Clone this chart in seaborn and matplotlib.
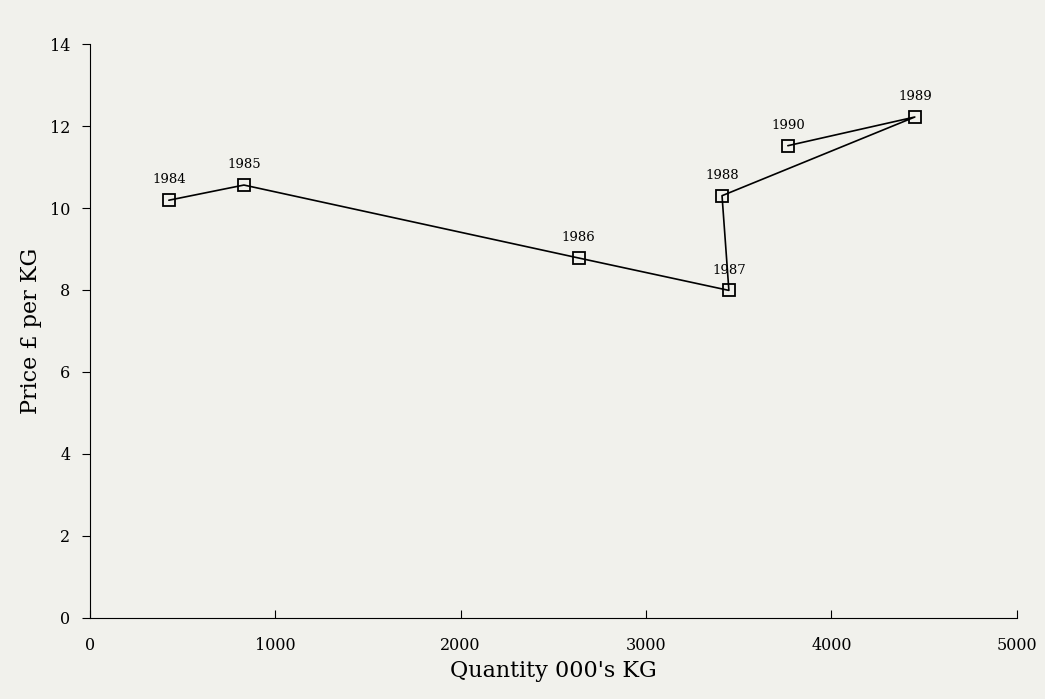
import matplotlib
matplotlib.use("Agg")
import matplotlib.pyplot as plt
import pandas as pd
import seaborn as sns

# values
years = ['1984', '1985', '1986', '1987', '1988', '1989', '1990']
quantity = [426, 831, 2637, 3447, 3410, 4450, 3765]
price = [10.19, 10.56, 8.78, 7.99, 10.30, 12.22, 11.52]

df = pd.DataFrame({'year': years, 'quantity': quantity, 'price': price})

sns.set_style("ticks")
plt.rcParams['font.family'] = ['DejaVu Serif']
plt.rcParams['text.color'] = 'black'
plt.rcParams['axes.labelcolor'] = 'black'
plt.rcParams['xtick.color'] = 'black'
plt.rcParams['ytick.color'] = 'black'
plt.rcParams['axes.edgecolor'] = 'black'

fig = plt.figure(figsize=(10.45, 6.99), dpi=100, facecolor='#f1f1ec')
ax = fig.add_axes([0.086, 0.116, 0.887, 0.821])
ax.set_facecolor('#f1f1ec')

sns.lineplot(x='quantity', y='price', data=df, sort=False, ax=ax,
             color='black', linewidth=1.2, marker='s', markersize=9,
             markerfacecolor='none', markeredgecolor='black', markeredgewidth=1.3)

for _, r in df.iterrows():
    ax.annotate(r['year'], (r['quantity'], r['price']), xytext=(0, 10),
                textcoords='offset points', ha='center', va='bottom',
                fontsize=9.5)

ax.set_xlim(0, 5000)
ax.set_ylim(0, 14)
ax.set_xticks([0, 1000, 2000, 3000, 4000, 5000])
ax.set_yticks([0, 2, 4, 6, 8, 10, 12, 14])
ax.tick_params(axis='x', direction='in', length=6, labelsize=11.5, pad=14)
ax.tick_params(axis='y', direction='out', length=6, labelsize=11.5, pad=8)
sns.despine(ax=ax)
ax.set_xlabel("Quantity 000's KG", fontsize=16, labelpad=4)
ax.set_ylabel("Price £ per KG", fontsize=16, labelpad=6)

fig.savefig('out.png', dpi=100, facecolor=fig.get_facecolor())
